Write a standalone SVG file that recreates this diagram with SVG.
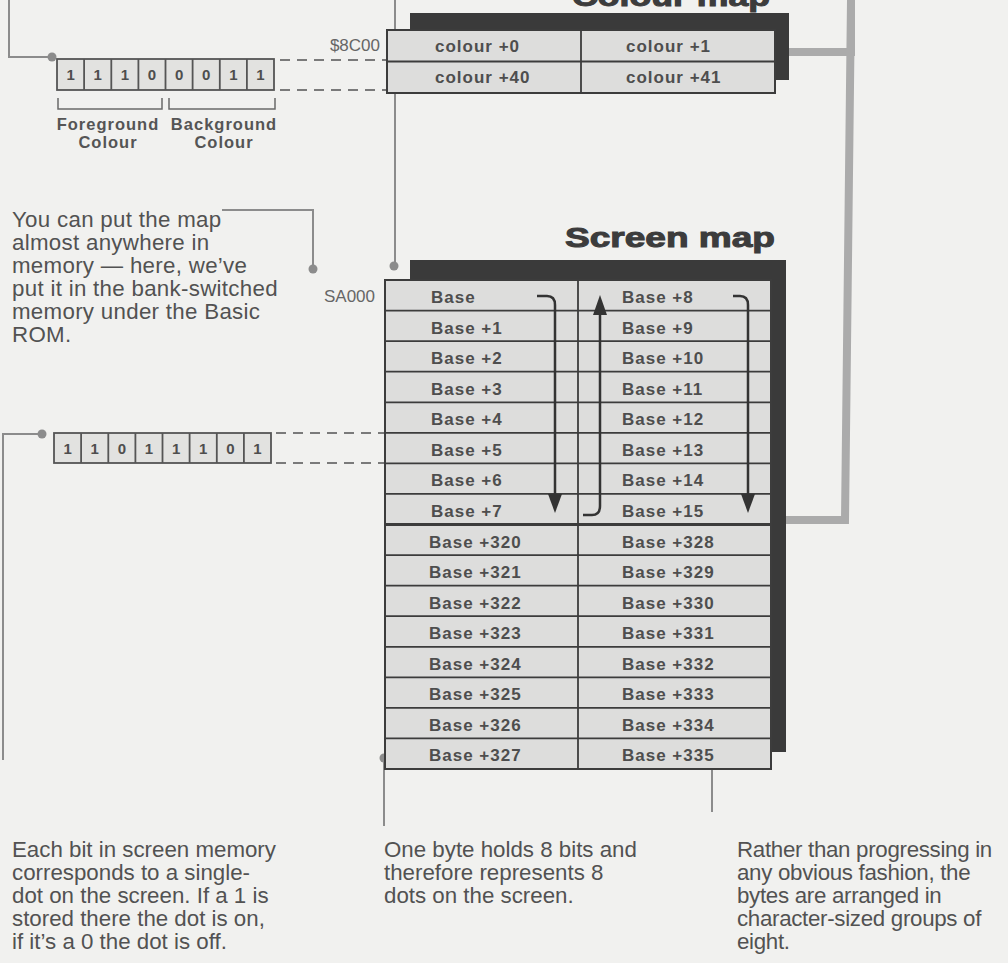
<svg xmlns="http://www.w3.org/2000/svg" width="1008" height="963" viewBox="0 0 1008 963">
<defs>
<style>
.bg{fill:#f1f1ef}
.shadow{fill:#3a3a3a}
.box{fill:#dddddc;stroke:#3c3c3c;stroke-width:2}
.ln{stroke:#3c3c3c;stroke-width:1.8;fill:none}
.cell{font-family:"Liberation Sans",Arial,sans-serif;font-weight:bold;font-size:17px;fill:#4e4e4e;letter-spacing:1px}
.bit{font-family:"Liberation Sans",Arial,sans-serif;font-weight:bold;font-size:15px;fill:#4e4e4e;text-anchor:middle}
.cap{font-family:"Liberation Sans",Arial,sans-serif;font-weight:bold;font-size:16.5px;fill:#555;letter-spacing:1px;text-anchor:middle}
.addr{font-family:"Liberation Sans",Arial,sans-serif;font-size:17px;fill:#666;text-anchor:end}
.body{font-family:"Liberation Sans",Arial,sans-serif;font-size:22.3px;fill:#525252;letter-spacing:0.3px}
.body2{font-family:"Liberation Sans",Arial,sans-serif;font-size:22.3px;fill:#525252}
.narrow{letter-spacing:-0.3px}
.title{font-family:"Liberation Sans",Arial,sans-serif;font-weight:bold;font-size:27px;fill:#3c3c3c;stroke:#3c3c3c;stroke-width:1}
.conn{stroke:#8c8c8c;stroke-width:2;fill:none}
.dot{fill:#8c8c8c}
.dash{stroke:#7a7a7a;stroke-width:2;stroke-dasharray:10 7;fill:none}
.thick{stroke:#ababab;stroke-width:8;fill:none}
.arrow{stroke:#333;stroke-width:2.5;fill:none}
.head{fill:#333}
.brk{stroke:#6a6a6a;stroke-width:1.5;fill:none}
</style>
</defs>
<rect class="bg" x="0" y="0" width="1008" height="963"/>

<g id="connectors">
  <path class="thick" d="M789 52 H851 V0 M851 0 L845 520 H785"/>
  <path class="conn" d="M9 0 V57 H52"/>
  <circle class="dot" cx="52" cy="57" r="4.5"/>
  <path class="conn" d="M395 0 V266"/>
  <circle class="dot" cx="395" cy="48" r="4.5"/>
  <circle class="dot" cx="394" cy="266" r="4.5"/>
  <path class="conn" d="M222 210 H313 V269"/>
  <circle class="dot" cx="313" cy="269" r="4.5"/>
  <path class="conn" d="M42 434 H3 V760"/>
  <circle class="dot" cx="42" cy="434" r="4.5"/>
  <path class="conn" d="M384 758 V826"/>
  <circle class="dot" cx="384" cy="758" r="4.5"/>
  <path class="conn" d="M712 760 V812"/>
  <circle class="dot" cx="712" cy="760" r="4.5"/>
  <path class="dash" d="M280 60 H387 M280 90 H387"/>
  <path class="dash" d="M276 433 H385 M276 463 H385"/>
</g>

<g id="colour-map">
  <text class="title" x="572" y="6" textLength="198" lengthAdjust="spacingAndGlyphs">Colour map</text>
  <rect class="shadow" x="410" y="13" width="379" height="67"/>
  <rect class="box" x="387" y="30" width="388" height="63"/>
  <path class="ln" d="M387 61.5 H775 M581 30 V93"/>
  <text class="cell" x="435" y="52">colour +0</text>
  <text class="cell" x="626" y="52">colour +1</text>
  <text class="cell" x="435" y="83">colour +40</text>
  <text class="cell" x="626" y="83">colour +41</text>
  <text class="addr" x="380" y="51">$8C00</text>
</g>

<g id="screen-map">
  <text class="title" x="565" y="247" textLength="210" lengthAdjust="spacingAndGlyphs">Screen map</text>
  <rect class="shadow" x="410" y="260" width="376" height="492"/>
  <rect class="box" x="385" y="280" width="386" height="489"/>
  <path class="ln" d="M385 310.6H771M385 341.1H771M385 371.7H771M385 402.3H771M385 432.8H771M385 463.4H771M385 493.9H771M385 555.1H771M385 585.6H771M385 616.2H771M385 646.8H771M385 677.3H771M385 707.9H771M385 738.4H771M578 280V769"/>
  <path d="M385 524.5H771" stroke="#3c3c3c" stroke-width="3"/>
  <text class="addr" x="375" y="302">SA000</text>
  <g>
    <text class="cell" x="431" y="303">Base</text>
    <text class="cell" x="431" y="333.5">Base +1</text>
    <text class="cell" x="431" y="364">Base +2</text>
    <text class="cell" x="431" y="394.5">Base +3</text>
    <text class="cell" x="431" y="425">Base +4</text>
    <text class="cell" x="431" y="455.5">Base +5</text>
    <text class="cell" x="431" y="486">Base +6</text>
    <text class="cell" x="431" y="516.5">Base +7</text>
    <text class="cell" x="429" y="547.5">Base +320</text>
    <text class="cell" x="429" y="578">Base +321</text>
    <text class="cell" x="429" y="608.5">Base +322</text>
    <text class="cell" x="429" y="639">Base +323</text>
    <text class="cell" x="429" y="669.5">Base +324</text>
    <text class="cell" x="429" y="700">Base +325</text>
    <text class="cell" x="429" y="730.5">Base +326</text>
    <text class="cell" x="429" y="761">Base +327</text>
    <text class="cell" x="622" y="303">Base +8</text>
    <text class="cell" x="622" y="333.5">Base +9</text>
    <text class="cell" x="622" y="364">Base +10</text>
    <text class="cell" x="622" y="394.5">Base +11</text>
    <text class="cell" x="622" y="425">Base +12</text>
    <text class="cell" x="622" y="455.5">Base +13</text>
    <text class="cell" x="622" y="486">Base +14</text>
    <text class="cell" x="622" y="516.5">Base +15</text>
    <text class="cell" x="622" y="547.5">Base +328</text>
    <text class="cell" x="622" y="578">Base +329</text>
    <text class="cell" x="622" y="608.5">Base +330</text>
    <text class="cell" x="622" y="639">Base +331</text>
    <text class="cell" x="622" y="669.5">Base +332</text>
    <text class="cell" x="622" y="700">Base +333</text>
    <text class="cell" x="622" y="730.5">Base +334</text>
    <text class="cell" x="622" y="761">Base +335</text>
  </g>
  <path class="arrow" d="M537 296 H547 Q555 296 555 305 V497"/>
  <polygon class="head" points="548,494 562,494 555,513"/>
  <path class="arrow" d="M583 515 H592 Q600 515 600 506 V312"/>
  <polygon class="head" points="593,315 607,315 600,295"/>
  <path class="arrow" d="M733 296 H740 Q748 296 748 305 V497"/>
  <polygon class="head" points="741,494 755,494 748,513"/>
</g>

<g id="colour-byte">
  <rect x="57" y="59" width="217" height="31" fill="#e2e2e0" stroke="#555" stroke-width="1.8"/>
  <path d="M84.1 59V90M111.3 59V90M138.4 59V90M165.5 59V90M192.6 59V90M219.8 59V90M246.9 59V90" stroke="#555" stroke-width="1.8"/>
  <text class="bit" x="70.6" y="80">1</text>
  <text class="bit" x="97.7" y="80">1</text>
  <text class="bit" x="124.8" y="80">1</text>
  <text class="bit" x="152" y="80">0</text>
  <text class="bit" x="179.1" y="80">0</text>
  <text class="bit" x="206.2" y="80">0</text>
  <text class="bit" x="233.3" y="80">1</text>
  <text class="bit" x="260.5" y="80">1</text>
  <path class="brk" d="M58 98 V109 H162 V98 M169 98 V109 H275 V98"/>
  <text class="cap" x="108" y="130">Foreground</text>
  <text class="cap" x="108" y="148">Colour</text>
  <text class="cap" x="224" y="130">Background</text>
  <text class="cap" x="224" y="148">Colour</text>
</g>

<g id="screen-byte">
  <rect x="54" y="433" width="217" height="30" fill="#e2e2e0" stroke="#555" stroke-width="1.8"/>
  <path d="M81.1 433V463M108.3 433V463M135.4 433V463M162.5 433V463M189.6 433V463M216.8 433V463M243.9 433V463" stroke="#555" stroke-width="1.8"/>
  <text class="bit" x="67.6" y="454">1</text>
  <text class="bit" x="94.7" y="454">1</text>
  <text class="bit" x="121.8" y="454">0</text>
  <text class="bit" x="149" y="454">1</text>
  <text class="bit" x="176.1" y="454">1</text>
  <text class="bit" x="203.2" y="454">1</text>
  <text class="bit" x="230.3" y="454">0</text>
  <text class="bit" x="257.5" y="454">1</text>
</g>

<g id="note-location">
  <text class="body" x="12" y="227">You can put the map</text>
  <text class="body" x="12" y="250">almost anywhere in</text>
  <text class="body" x="12" y="273">memory — here, we’ve</text>
  <text class="body" x="12" y="296">put it in the bank-switched</text>
  <text class="body" x="12" y="319">memory under the Basic</text>
  <text class="body" x="12" y="342">ROM.</text>
</g>

<g id="note-bits">
  <text class="body2" x="12" y="857">Each bit in screen memory</text>
  <text class="body2" x="12" y="880">corresponds to a single-</text>
  <text class="body2" x="12" y="903">dot on the screen. If a 1 is</text>
  <text class="body2" x="12" y="926">stored there the dot is on,</text>
  <text class="body2" x="12" y="949">if it’s a 0 the dot is off.</text>
</g>

<g id="note-byte">
  <text class="body2" x="384" y="857">One byte holds 8 bits and</text>
  <text class="body2" x="384" y="880">therefore represents 8</text>
  <text class="body2" x="384" y="903">dots on the screen.</text>
</g>

<g id="note-order">
  <text class="body2 narrow" x="737" y="857">Rather than progressing in</text>
  <text class="body2 narrow" x="737" y="880">any obvious fashion, the</text>
  <text class="body2 narrow" x="737" y="903">bytes are arranged in</text>
  <text class="body2 narrow" x="737" y="926">character-sized groups of</text>
  <text class="body2 narrow" x="737" y="949">eight.</text>
</g>
</svg>
